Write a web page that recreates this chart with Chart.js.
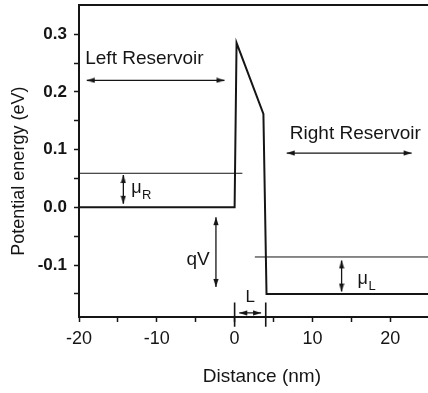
<!DOCTYPE html>
<html>
<head>
<meta charset="utf-8">
<script src="https://cdn.jsdelivr.net/npm/chart.js@4"></script>
<style>
  html, body { margin: 0; padding: 0; background: #fff; overflow: hidden; }
  #wrap { width: 428px; height: 393px; overflow: hidden; }
</style>
</head>
<body>
<div id="wrap"><canvas id="chart" width="450" height="393"></canvas></div>
<script>
// Conduction band profile across the barrier
const distanceNm = [-20, 0, 0.25, 3.7, 4.1, 27];
const energyEv   = [0, 0, 0.285, 0.162, -0.15, -0.15];

// Chemical potential levels of the two reservoirs
const muRightX = [-20, 1.0];
const muRightEv = 0.059;
const muLeftX = [2.6, 27];
const muLeftEv = -0.086;

// Double-headed arrows: [x0, y0, x1, y1]
const arrowLeftRes  = [-19.0, 0.22, -1.3, 0.22];
const arrowRightRes = [6.7, 0.094, 22.75, 0.094];
const arrowMuR      = [-14.3, 0.056, -14.3, 0.006];
const arrowQV       = [-2.4, -0.017, -2.4, -0.138];
const arrowMuL      = [13.75, -0.092, 13.75, -0.146];
const arrowL        = [0.6, -0.183, 3.4, -0.183];

// Barrier width markers at x = 0 and x = L
const widthMarkX = [0, 4];
const widthMarkY = [-0.165, -0.207];

// Axis ticks (half steps get a tick but no label)
const xTicks = [-20, -15, -10, -5, 0, 5, 10, 15, 20, 25];
const yTicks = [-0.15, -0.1, -0.05, 0, 0.05, 0.1, 0.15, 0.2, 0.25, 0.3];

// Text annotations in data coordinates
const plainLabels = [
  { text: 'Left Reservoir', x: -19.2, y: 0.248 },
  { text: 'Right Reservoir', x: 7.1, y: 0.119 },
  { text: 'qV', x: -6.2, y: -0.1 }
];
const muLabels = [
  { sub: 'R', x: -13.3, y: 0.024 },
  { sub: 'L', x: 15.8, y: -0.133 }
];
const widthLabel = { text: 'L', x: 1.4, y: -0.164 };

const INK = '#151515';
const FONT = "'Liberation Sans', Arial, sans-serif";

// small arrowhead, tip sits at the canvas centre and points up
function makeHead() {
  const c = document.createElement('canvas');
  c.width = 6; c.height = 18;
  const g = c.getContext('2d');
  g.fillStyle = INK;
  g.beginPath();
  g.moveTo(3, 9);
  g.lineTo(5.6, 17);
  g.lineTo(0.4, 17);
  g.closePath();
  g.fill();
  return c;
}
const head = makeHead();

function arrowSet(a) {
  const horiz = a[1] === a[3];
  return {
    data: [{ x: a[0], y: a[1] }, { x: a[2], y: a[3] }],
    borderColor: INK,
    borderWidth: 1.3,
    pointStyle: head,
    pointRadius: 3,
    pointRotation: horiz ? [-90, 90] : [0, 180]
  };
}

function lineSet(xs, ys, width) {
  return {
    data: xs.map((x, i) => ({ x, y: ys[i] })),
    borderColor: INK,
    borderWidth: width,
    pointRadius: 0
  };
}

const isMajor = v => Math.abs(v * 10 - Math.round(v * 10)) < 1e-6;

// keep the plot box fixed, no extra room for edge labels
function noEdgePadding(s) {
  s.paddingTop = 0; s.paddingBottom = 0;
  s.paddingLeft = 0; s.paddingRight = 0;
}

const annotate = {
  id: 'annotate',
  afterDatasetsDraw(chart) {
    const { ctx, scales: { x, y } } = chart;
    ctx.save();
    ctx.fillStyle = INK;
    ctx.textBaseline = 'alphabetic';
    ctx.textAlign = 'left';

    ctx.font = `19px ${FONT}`;
    plainLabels.forEach(l => {
      ctx.fillText(l.text, x.getPixelForValue(l.x), y.getPixelForValue(l.y));
    });

    muLabels.forEach(l => {
      const px = x.getPixelForValue(l.x);
      const py = y.getPixelForValue(l.y);
      ctx.font = `18px ${FONT}`;
      ctx.fillText('μ', px, py);
      const w = ctx.measureText('μ').width;
      ctx.font = `13px ${FONT}`;
      ctx.fillText(l.sub, px + w + 0.5, py + 6);
    });

    ctx.font = `17px ${FONT}`;
    ctx.fillText(widthLabel.text, x.getPixelForValue(widthLabel.x), y.getPixelForValue(widthLabel.y));
    ctx.restore();
  }
};

const profile = lineSet(distanceNm, energyEv, 2);
const muRLine = lineSet(muRightX, [muRightEv, muRightEv], 1);
const muLLine = lineSet(muLeftX, [muLeftEv, muLeftEv], 1);
const marks = widthMarkX.map(mx => Object.assign(lineSet([mx, mx], widthMarkY, 1.6), { clip: false }));

new Chart(document.getElementById('chart'), {
  type: 'line',
  data: {
    datasets: [
      profile, muRLine, muLLine, ...marks,
      arrowSet(arrowLeftRes), arrowSet(arrowRightRes), arrowSet(arrowMuR),
      arrowSet(arrowQV), arrowSet(arrowMuL), arrowSet(arrowL)
    ]
  },
  options: {
    responsive: false,
    animation: false,
    layout: { padding: { top: 4, left: 0, right: 0, bottom: 0 } },
    plugins: { legend: { display: false }, tooltip: { enabled: false } },
    elements: { line: { tension: 0 } },
    scales: {
      x: {
        type: 'linear',
        min: -20,
        max: 27,
        afterBuildTicks: s => { s.ticks = xTicks.map(v => ({ value: v })); },
        afterFit: s => { s.height = 76; noEdgePadding(s); },
        ticks: {
          autoSkip: false,
          maxRotation: 0,
          padding: 6,
          color: INK,
          font: { family: FONT, size: 18 },
          callback: v => (v % 10 === 0 ? String(v) : '')
        },
        grid: { drawOnChartArea: false, tickLength: 5, tickColor: INK, tickWidth: 1.5 },
        border: { color: INK, width: 2 },
        title: {
          display: true,
          text: 'Distance (nm)',
          color: INK,
          font: { family: FONT, size: 19 },
          padding: { top: 0, bottom: 5 }
        }
      },
      xTop: {
        type: 'linear',
        position: 'top',
        min: -20,
        max: 27,
        afterFit: s => { s.height = 0; noEdgePadding(s); },
        ticks: { display: false },
        grid: { display: false },
        border: { display: true, color: INK, width: 2 }
      },
      y: {
        min: -0.19,
        max: 0.35,
        afterBuildTicks: s => { s.ticks = yTicks.map(v => ({ value: v })); },
        afterFit: s => { s.width = 79; noEdgePadding(s); },
        ticks: {
          autoSkip: false,
          padding: 7,
          color: INK,
          font: { family: FONT, size: 17, weight: 'bold' },
          callback: v => (isMajor(v) ? (Math.abs(v) < 1e-9 ? '0.0' : v.toFixed(1)) : '')
        },
        grid: { drawOnChartArea: false, tickLength: 5, tickColor: INK, tickWidth: 1.5 },
        border: { color: INK, width: 2 },
        title: {
          display: true,
          text: 'Potential energy (eV)    ',
          color: INK,
          font: { family: FONT, size: 18 },
          padding: { top: 8, bottom: 0 }
        }
      }
    }
  },
  plugins: [annotate]
});
</script>
</body>
</html>
